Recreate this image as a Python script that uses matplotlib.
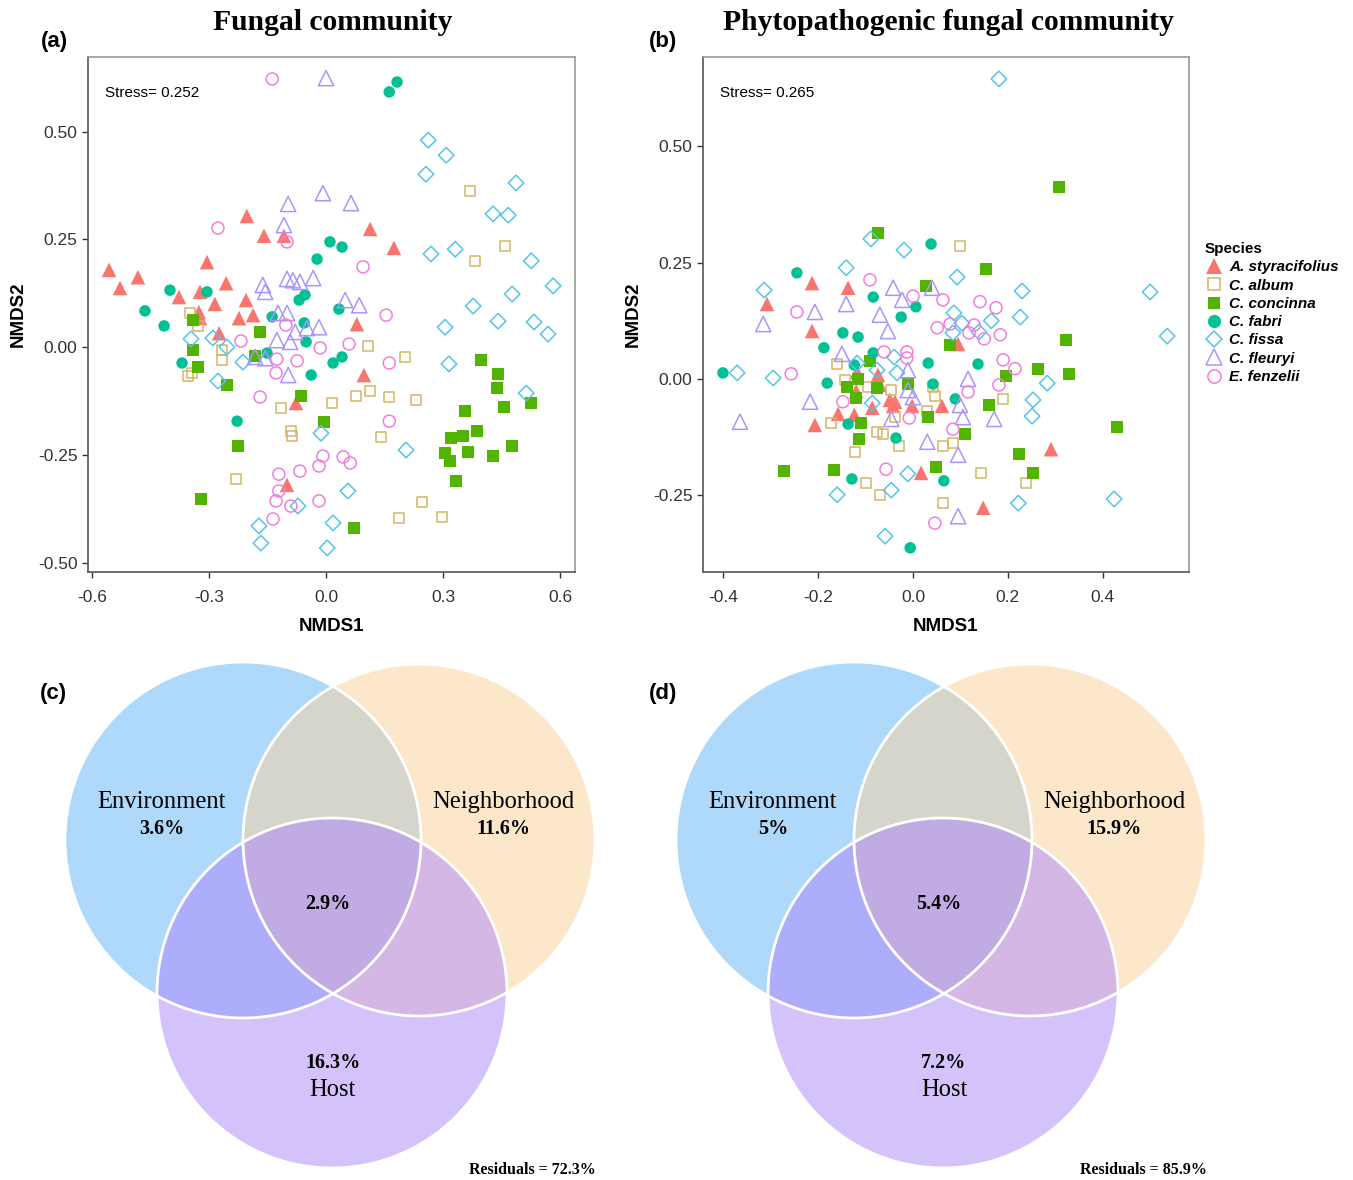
"""NMDS ordinations of fungal communities (a, b) and variance partitioning
Venn diagrams (c, d). Saves out.png
"""
import numpy as np
import matplotlib.pyplot as plt
from matplotlib.patches import Circle, Polygon
from matplotlib.lines import Line2D

species = ['A. styracifolius', 'C. album', 'C. concinna', 'C. fabri',
           'C. fissa', 'C. fleuryi', 'E. fenzelii']
colours = ['#F8766D', '#D5B466', '#53B400', '#00C094', '#55C4EA', '#A995FF', '#F07FDE']
markers = ['^', 's', 's', 'o', 'D', '^', 'o']
filled = [True, False, True, True, False, False, False]
msize = [110, 55, 72, 68, 62, 120, 75]

# (a) fungal community, NMDS1/NMDS2 per species
fungal_styracifolius = [
    (-0.203, 0.304), (-0.159, 0.258), (-0.108, 0.258), (-0.305, 0.197), (-0.556, 0.179),
    (-0.482, 0.162), (-0.528, 0.137), (-0.256, 0.148), (-0.377, 0.116), (-0.323, 0.128),
    (-0.285, 0.100), (-0.205, 0.109), (-0.326, 0.081), (-0.223, 0.067), (-0.187, 0.074),
    (-0.323, 0.067), (-0.274, 0.032), (-0.077, -0.130), (-0.100, -0.320), (0.079, 0.053),
    (0.097, -0.065), (0.113, 0.274), (0.174, 0.230)]
fungal_album = [
    (-0.349, 0.079), (-0.328, 0.049), (-0.267, -0.007), (-0.267, -0.030), (-0.354, -0.067),
    (-0.344, -0.060), (-0.115, -0.142), (0.015, -0.130), (-0.090, -0.195), (-0.087, -0.206),
    (-0.231, -0.306), (0.108, 0.002), (0.203, -0.023), (0.077, -0.114), (0.113, -0.102),
    (0.162, -0.116), (0.231, -0.123), (0.141, -0.209), (0.246, -0.360), (0.187, -0.397),
    (0.297, -0.394), (0.369, 0.362), (0.459, 0.234), (0.382, 0.200)]
fungal_concinna = [
    (-0.341, 0.063), (-0.341, -0.007), (-0.328, -0.046), (-0.169, 0.035), (-0.182, -0.021),
    (-0.254, -0.088), (-0.064, -0.114), (-0.005, -0.174), (-0.226, -0.230), (-0.321, -0.353),
    (0.397, -0.030), (0.441, -0.063), (0.438, -0.095), (0.356, -0.148), (0.456, -0.139),
    (0.526, -0.130), (0.321, -0.211), (0.351, -0.206), (0.387, -0.195), (0.305, -0.246),
    (0.318, -0.265), (0.364, -0.244), (0.428, -0.253), (0.477, -0.230), (0.333, -0.311),
    (0.072, -0.420)]
fungal_fabri = [
    (0.182, 0.615), (0.162, 0.592), (0.010, 0.244), (0.041, 0.232), (-0.023, 0.204),
    (-0.400, 0.132), (-0.305, 0.128), (-0.464, 0.084), (-0.415, 0.049), (-0.369, -0.037),
    (-0.138, 0.070), (-0.056, 0.056), (-0.051, 0.012), (-0.151, -0.014), (-0.038, -0.065),
    (0.018, -0.037), (0.041, -0.023), (-0.069, 0.109), (-0.054, 0.121), (-0.228, -0.172),
    (0.033, 0.088)]
fungal_fissa = [
    (-0.346, 0.019), (-0.290, 0.021), (-0.254, 0.000), (-0.213, -0.035), (-0.277, -0.079),
    (-0.013, -0.200), (-0.072, -0.369), (-0.172, -0.415), (-0.167, -0.455), (0.003, -0.466),
    (0.018, -0.408), (0.377, 0.095), (0.441, 0.060), (0.533, 0.058), (0.305, 0.046),
    (0.569, 0.030), (0.315, -0.039), (0.513, -0.107), (0.205, -0.239), (0.056, -0.334),
    (0.262, 0.480), (0.308, 0.445), (0.256, 0.401), (0.487, 0.381), (0.428, 0.309),
    (0.467, 0.306), (0.269, 0.216), (0.331, 0.227), (0.526, 0.200), (0.582, 0.142),
    (0.477, 0.123)]
fungal_fleuryi = [
    (0.000, 0.624), (-0.008, 0.357), (0.064, 0.334), (-0.097, 0.332), (-0.108, 0.283),
    (-0.162, 0.144), (-0.156, 0.128), (-0.100, 0.158), (-0.085, 0.155), (-0.067, 0.151),
    (-0.033, 0.160), (-0.123, 0.079), (-0.100, 0.079), (-0.126, 0.016), (-0.092, 0.012),
    (-0.079, 0.035), (-0.049, 0.044), (-0.018, 0.046), (-0.182, -0.023), (-0.156, -0.026),
    (-0.097, -0.065), (0.049, 0.109), (0.085, 0.097)]
fungal_fenzelii = [
    (-0.138, 0.622), (-0.277, 0.276), (-0.100, 0.244), (0.095, 0.186), (-0.218, 0.014),
    (-0.103, 0.051), (-0.015, -0.002), (-0.126, -0.028), (-0.074, -0.032), (-0.128, -0.060),
    (-0.169, -0.116), (-0.008, -0.253), (-0.018, -0.276), (-0.067, -0.288), (-0.121, -0.295),
    (-0.121, -0.334), (-0.128, -0.357), (-0.090, -0.369), (-0.136, -0.399), (-0.018, -0.357),
    (0.154, 0.074), (0.059, 0.007), (0.162, -0.037), (0.162, -0.172), (0.044, -0.255),
    (0.062, -0.269)]

# (b) phytopathogenic fungal community
patho_styracifolius = [
    (-0.213, 0.206), (-0.137, 0.196), (-0.308, 0.161), (-0.213, 0.103), (-0.118, 0.015),
    (-0.074, 0.009), (-0.070, -0.013), (-0.120, -0.026), (-0.049, -0.045), (-0.038, -0.049),
    (-0.042, -0.058), (-0.002, -0.058), (0.061, -0.058), (-0.158, -0.075), (-0.124, -0.077),
    (-0.086, -0.062), (-0.207, -0.099), (0.017, -0.202), (0.095, 0.075), (0.291, -0.151),
    (0.148, -0.277)]
patho_album = [
    (0.099, 0.286), (-0.160, 0.032), (-0.143, -0.002), (-0.095, -0.017), (-0.046, -0.024),
    (0.042, -0.017), (0.046, -0.037), (0.030, -0.069), (-0.038, -0.082), (-0.173, -0.095),
    (-0.076, -0.114), (-0.063, -0.118), (-0.030, -0.144), (-0.122, -0.157), (0.063, -0.144),
    (-0.099, -0.224), (-0.070, -0.249), (0.063, -0.267), (0.190, -0.043), (0.084, -0.138),
    (0.143, -0.202), (0.238, -0.224)]
patho_concinna = [
    (-0.074, 0.314), (0.027, 0.200), (0.154, 0.237), (0.308, 0.413), (-0.091, 0.039),
    (-0.116, 0.000), (-0.139, -0.017), (-0.120, -0.041), (-0.076, -0.019), (-0.011, -0.011),
    (0.032, -0.082), (-0.110, -0.095), (-0.114, -0.129), (-0.272, -0.198), (-0.167, -0.196),
    (0.049, -0.189), (0.078, 0.073), (0.323, 0.084), (0.196, 0.006), (0.264, 0.022),
    (0.329, 0.011), (0.160, -0.056), (0.110, -0.118), (0.430, -0.103), (0.224, -0.161),
    (0.253, -0.202)]
patho_fabri = [
    (0.038, 0.290), (-0.245, 0.228), (-0.084, 0.176), (0.006, 0.155), (-0.025, 0.133),
    (-0.148, 0.099), (-0.116, 0.090), (-0.188, 0.067), (-0.084, 0.056), (-0.124, 0.030),
    (0.032, 0.034), (-0.401, 0.013), (-0.181, -0.009), (0.042, -0.011), (-0.137, -0.097),
    (-0.036, -0.127), (-0.129, -0.215), (0.065, -0.219), (-0.006, -0.363), (0.137, 0.032),
    (0.089, -0.043)]
patho_fissa = [
    (0.181, 0.645), (-0.089, 0.301), (-0.019, 0.277), (-0.141, 0.239), (-0.314, 0.191),
    (0.093, 0.219), (0.230, 0.189), (0.500, 0.187), (0.086, 0.142), (0.103, 0.120),
    (0.165, 0.125), (0.226, 0.133), (0.084, 0.099), (0.139, 0.101), (0.536, 0.092),
    (0.283, -0.009), (0.253, -0.045), (0.251, -0.080), (0.222, -0.267), (0.424, -0.258),
    (-0.371, 0.013), (-0.295, 0.002), (-0.118, 0.034), (-0.076, 0.019), (-0.040, 0.047),
    (-0.034, 0.013), (-0.086, -0.052), (-0.011, -0.204), (-0.046, -0.239), (-0.160, -0.249),
    (-0.059, -0.338)]
patho_fleuryi = [
    (-0.042, 0.196), (-0.023, 0.170), (0.040, 0.196), (-0.207, 0.144), (-0.141, 0.161),
    (-0.070, 0.138), (-0.316, 0.118), (-0.053, 0.103), (-0.150, 0.054), (-0.011, 0.019),
    (-0.011, -0.024), (0.000, -0.039), (-0.217, -0.049), (-0.046, -0.086), (-0.365, -0.092),
    (0.030, -0.135), (0.116, 0.000), (0.099, -0.056), (0.105, -0.082), (0.171, -0.086),
    (0.095, -0.163), (0.095, -0.295)]
patho_fenzelii = [
    (-0.091, 0.213), (0.000, 0.178), (0.063, 0.170), (-0.245, 0.144), (0.051, 0.110),
    (-0.061, 0.058), (-0.013, 0.058), (-0.013, 0.045), (-0.257, 0.011), (-0.148, -0.049),
    (-0.008, -0.084), (-0.057, -0.194), (0.046, -0.310), (0.141, 0.166), (0.175, 0.153),
    (0.078, 0.118), (0.129, 0.116), (0.118, 0.099), (0.150, 0.086), (0.184, 0.095),
    (0.190, 0.041), (0.215, 0.022), (0.181, -0.013), (0.116, -0.028), (0.084, -0.108)]

# (c, d) variance partitioning
venn_labels = ['Environment', 'Neighborhood', 'Host']
fungal_pct = [3.6, 11.6, 16.3]
fungal_shared = 2.9
fungal_resid = 72.3
patho_pct = [5, 15.9, 7.2]
patho_shared = 5.4
patho_resid = 85.9

SERIF = 'Liberation Serif'
SANS = 'Liberation Sans'
TICK_COL = '#333333'


def plot_nmds(ax, groups, stress, xticks, yticks, xlim, ylim):
    for pts, c, m, f, s in zip(groups, colours, markers, filled, msize):
        arr = np.array(pts)
        if f:
            ax.scatter(arr[:, 0], arr[:, 1], marker=m, s=s, c=c, edgecolors='none', zorder=3)
        else:
            ax.scatter(arr[:, 0], arr[:, 1], marker=m, s=s, facecolors='none',
                       edgecolors=c, linewidths=1.1, zorder=3)
    ax.set_xlim(*xlim)
    ax.set_ylim(*ylim)
    ax.set_xticks(xticks)
    ax.set_yticks(yticks)
    ax.set_xticklabels(['%.1f' % v for v in xticks])
    ax.set_yticklabels(['%.2f' % v for v in yticks])
    ax.tick_params(labelsize=12.5, colors=TICK_COL, length=4, width=1)
    ax.tick_params(axis='x', pad=9)
    for lab in ax.get_xticklabels() + ax.get_yticklabels():
        lab.set_fontfamily(SANS)
    for sp in ax.spines.values():
        sp.set_color('#9a9a9a')
        sp.set_linewidth(1.2)
    ax.spines['left'].set_color('#555555')
    ax.spines['bottom'].set_color('#555555')
    ax.set_xlabel('NMDS1', fontsize=13.5, fontweight='bold', family=SANS, labelpad=9)
    ax.set_ylabel('NMDS2', fontsize=13.5, fontweight='bold', family=SANS, labelpad=8)
    ax.text(0.035, 0.93, 'Stress= %.3f' % stress, transform=ax.transAxes,
            fontsize=11, family=SANS, va='center')


def circle_points(cx, cy, r, n=3000):
    t = np.linspace(0, 2 * np.pi, n, endpoint=False)
    return np.column_stack([cx + r * np.cos(t), cy + r * np.sin(t)])


def triple_region(circles):
    pts = []
    for i, (cx, cy, r) in enumerate(circles):
        p = circle_points(cx, cy, r)
        keep = np.ones(len(p), bool)
        for j, (ox, oy, orad) in enumerate(circles):
            if j != i:
                keep &= np.hypot(p[:, 0] - ox, p[:, 1] - oy) <= orad
        pts.append(p[keep])
    pts = np.vstack(pts)
    c = pts.mean(axis=0)
    order = np.argsort(np.arctan2(pts[:, 1] - c[1], pts[:, 0] - c[0]))
    return pts[order]


def draw_venn(ax, dx, pct, shared, resid):
    env = (243 + dx, 840, 178)
    nbh = (419 + dx, 840, 176)
    host = (332 + dx, 993, 175)
    base = {}
    for key, (cx, cy, r), col in zip('enh', (env, nbh, host),
                                     ('#AFD9FB', '#FDE7CB', '#D4C2FB')):
        base[key] = Circle((cx, cy), r, fc=col, ec='none', zorder=1)
        ax.add_patch(base[key])
    for (cx, cy, r), clip, col in ((nbh, 'e', '#D5D5CB'), (host, 'e', '#AEADFB'),
                                   (host, 'n', '#D4B7E4')):
        lens = Circle((cx, cy), r, fc=col, ec='none', zorder=2)
        ax.add_patch(lens)
        lens.set_clip_path(base[clip])
    ax.add_patch(Polygon(triple_region([env, nbh, host]), closed=True,
                         fc='#C0ACE3', ec='none', zorder=3))
    for cx, cy, r in (env, nbh, host):
        ax.add_patch(Circle((cx, cy), r, fc='none', ec='white', lw=2, zorder=4))

    ax.text(162 + dx, 802, venn_labels[0], fontsize=17.7, family=SERIF, ha='center', va='center')
    ax.text(162 + dx, 829, '%g%%' % pct[0], fontsize=14.5, family=SERIF,
            fontweight='bold', ha='center', va='center')
    ax.text(503 + dx, 802, venn_labels[1], fontsize=17.7, family=SERIF, ha='center', va='center')
    ax.text(503 + dx, 829, '%g%%' % pct[1], fontsize=14.5, family=SERIF,
            fontweight='bold', ha='center', va='center')
    ax.text(328 + dx, 904, '%g%%' % shared, fontsize=14.5, family=SERIF,
            fontweight='bold', ha='center', va='center')
    ax.text(333 + dx, 1063, '%g%%' % pct[2], fontsize=14.5, family=SERIF,
            fontweight='bold', ha='center', va='center')
    ax.text(333 + dx, 1090, venn_labels[2], fontsize=17.7, family=SERIF, ha='center', va='center')
    ax.text(532 + dx, 1170, 'Residuals = %g%%' % resid, fontsize=11.5, family=SERIF,
            fontweight='bold', ha='center', va='center')


def main():
    W, H = 1353, 1180
    fig = plt.figure(figsize=(W / 100, H / 100), dpi=100)

    ax_a = fig.add_axes([88 / W, 1 - 572 / H, 487 / W, 515 / H])
    plot_nmds(ax_a, [fungal_styracifolius, fungal_album, fungal_concinna, fungal_fabri,
                     fungal_fissa, fungal_fleuryi, fungal_fenzelii], 0.252,
              [-0.6, -0.3, 0.0, 0.3, 0.6], [0.5, 0.25, 0.0, -0.25, -0.5],
              (-0.61, 0.638), (-0.522, 0.673))

    ax_b = fig.add_axes([703 / W, 1 - 572 / H, 486 / W, 515 / H])
    plot_nmds(ax_b, [patho_styracifolius, patho_album, patho_concinna, patho_fabri,
                     patho_fissa, patho_fleuryi, patho_fenzelii], 0.265,
              [-0.4, -0.2, 0.0, 0.2, 0.4], [0.5, 0.25, 0.0, -0.25],
              (-0.443, 0.582), (-0.415, 0.692))

    handles = []
    for c, m, f in zip(colours, markers, filled):
        ms = {'^': 12, 's': 9, 'o': 9.5, 'D': 8.5}[m]
        handles.append(Line2D([], [], ls='none', marker=m, ms=ms,
                              mfc=c if f else 'none', mec=c if not f else 'none', mew=1.1))
    leg = fig.legend(handles, species, loc='upper left',
                     bbox_to_anchor=(1198 / W, 1 - 236 / H), frameon=False,
                     title='Species', alignment='left', handletextpad=0.35,
                     handlelength=1.3, labelspacing=0.28, borderaxespad=0,
                     prop=dict(family=SANS, style='italic', weight='bold', size=11))
    leg.get_title().set_fontproperties(dict(family=SANS, weight='bold', size=11))

    ax_v = fig.add_axes([0, 0, 1, 1], zorder=-1)
    ax_v.set_xlim(0, W)
    ax_v.set_ylim(H, 0)
    ax_v.axis('off')
    draw_venn(ax_v, 0, fungal_pct, fungal_shared, fungal_resid)
    draw_venn(ax_v, 611, patho_pct, patho_shared, patho_resid)

    fig.text(333 / W, 1 - 23 / H, 'Fungal community', fontsize=21.3, family=SERIF,
             fontweight='bold', ha='center', va='center')
    fig.text(948 / W, 1 - 23 / H, 'Phytopathogenic fungal community', fontsize=21.3,
             family=SERIF, fontweight='bold', ha='center', va='center')
    for lab, x, y in (('(a)', 54, 42), ('(b)', 663, 42), ('(c)', 53, 693), ('(d)', 663, 693)):
        fig.text(x / W, 1 - y / H, lab, fontsize=16, family=SANS, fontweight='bold',
                 ha='center', va='center')

    fig.savefig('out.png', dpi=100)


if __name__ == '__main__':
    main()
